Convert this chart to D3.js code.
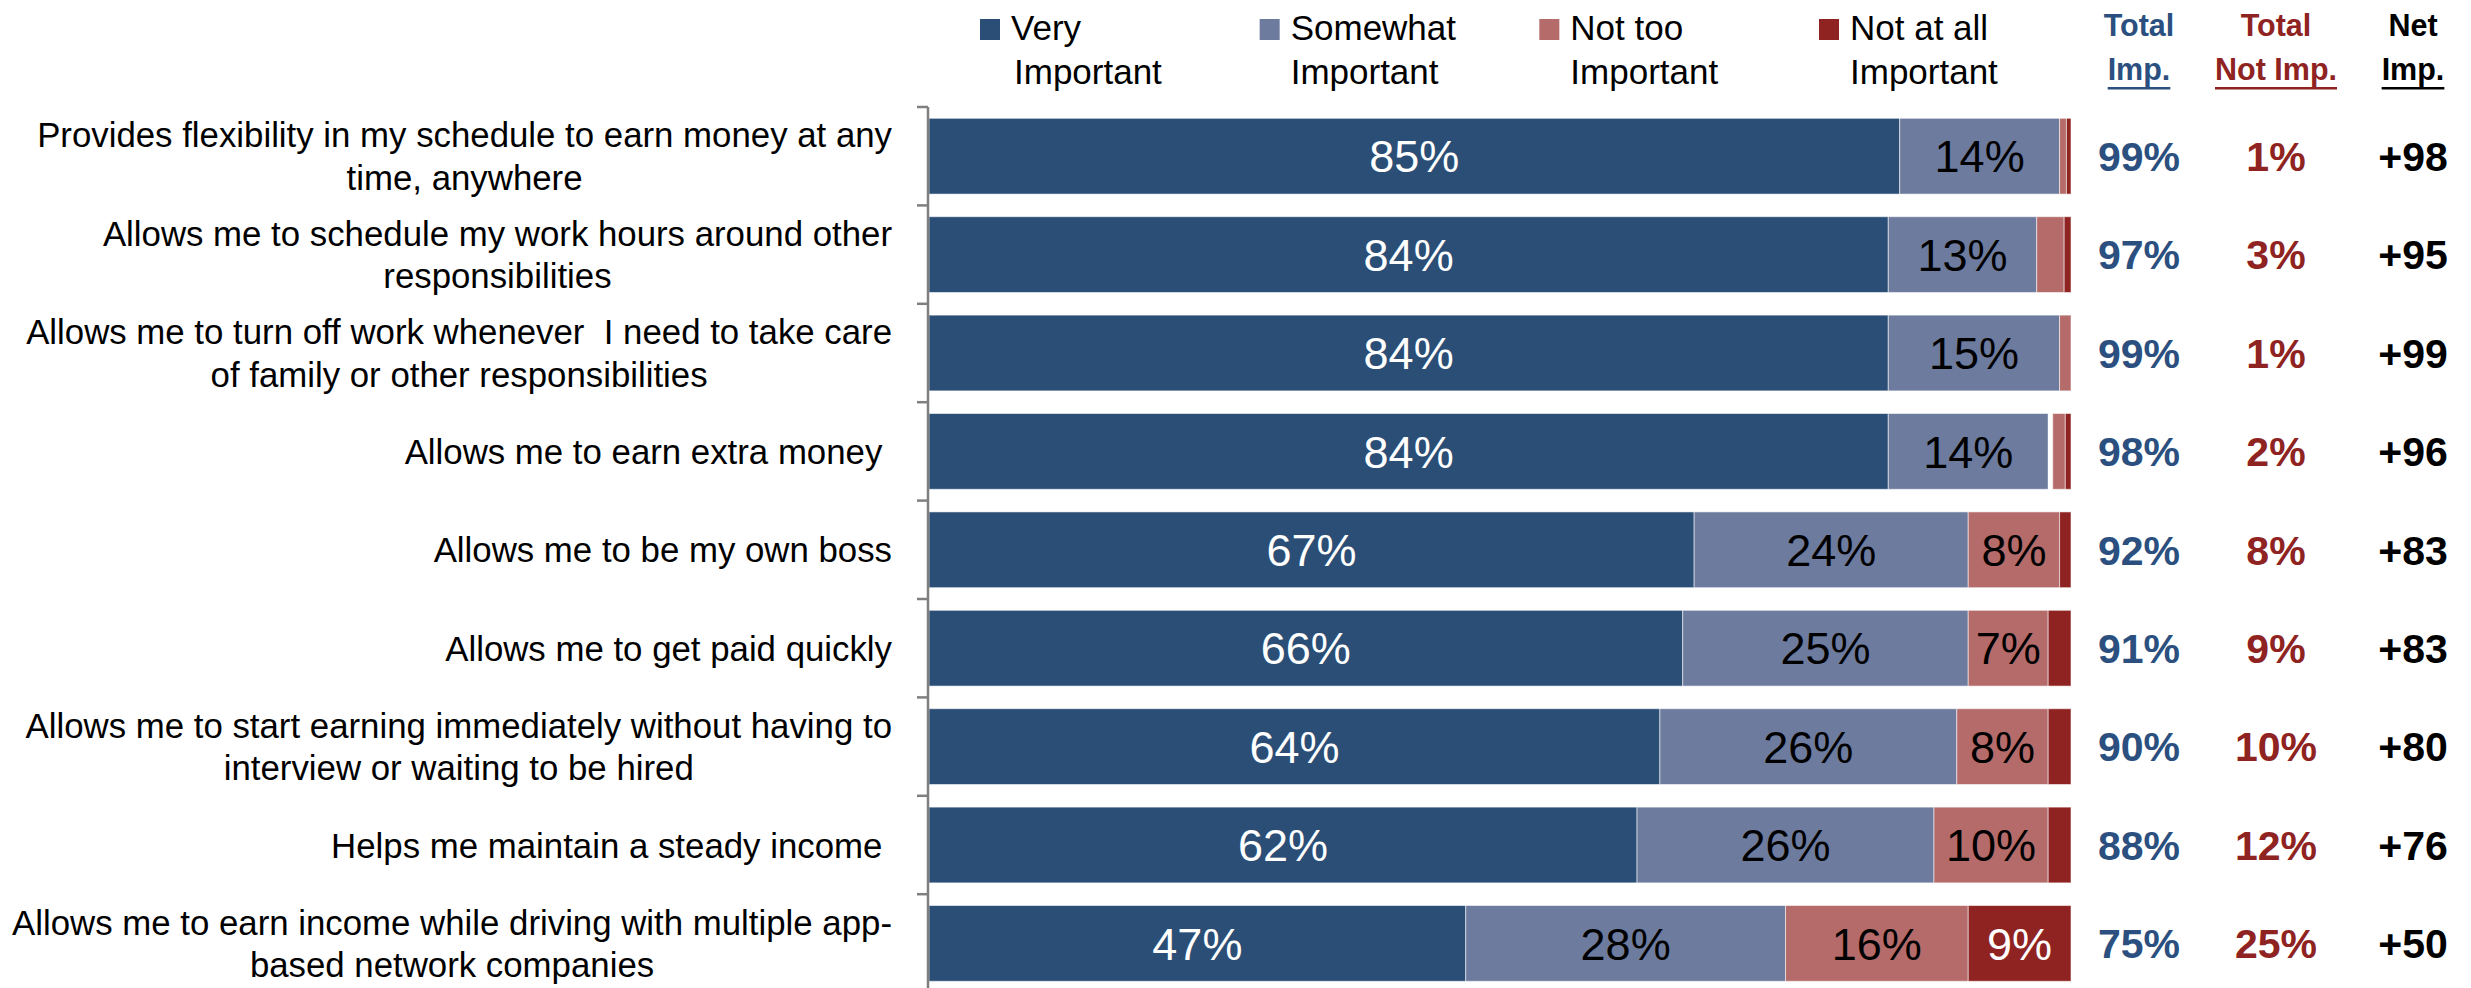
<!DOCTYPE html>
<html>
<head>
<meta charset="utf-8">
<script src="https://cdn.jsdelivr.net/npm/d3@7"></script>
<style>
  body { margin: 0; background: #fff; }
  svg { display: block; }
  text { font-family: "Liberation Sans", Arial, sans-serif; white-space: pre; }
</style>
</head>
<body>
<svg id="chart" width="2471" height="988"></svg>
<script>
// Survey items (line breaks as shown on the axis)
const categories = [
  "Provides flexibility in my schedule to earn money at any\ntime, anywhere",
  "Allows me to schedule my work hours around other\nresponsibilities",
  "Allows me to turn off work whenever  I need to take care\nof family or other responsibilities",
  "Allows me to earn extra money ",
  "Allows me to be my own boss",
  "Allows me to get paid quickly",
  "Allows me to start earning immediately without having to\ninterview or waiting to be hired",
  "Helps me maintain a steady income ",
  "Allows me to earn income while driving with multiple app-\nbased network companies"
];

// Response shares (%)
const veryImportant     = [85, 84, 84, 84, 67, 66, 64, 62, 47];
const somewhatImportant = [14, 13, 15, 14, 24, 25, 26, 26, 28];
const noAnswer          = [0, 0, 0, 0.4, 0, 0, 0, 0, 0];
const notTooImportant   = [0.6, 2.4, 1, 1.1, 8, 7, 8, 10, 16];
const notAtAllImportant = [0.4, 0.6, 0, 0.5, 1, 2, 2, 2, 9];

// Summary columns
const totalImp    = [99, 97, 99, 98, 92, 91, 90, 88, 75];
const totalNotImp = [1, 3, 1, 2, 8, 9, 10, 12, 25];
const netImp      = [98, 95, 99, 96, 83, 83, 80, 76, 50];

// Legend and header text
const seriesKeys   = ["very", "somewhat", "noAnswer", "notToo", "notAtAll"];
const legendKeys   = ["very", "somewhat", "notToo", "notAtAll"];
const legendLabels = ["Very\nImportant", "Somewhat\nImportant", "Not too\nImportant", "Not at all\nImportant"];
const headerLabels = ["Total\nImp.", "Total\nNot Imp.", "Net\nImp."];

const colors = {
  very: "#2b4e76",
  somewhat: "#6c7b9e",
  noAnswer: "#ffffff",
  notToo: "#b46b69",
  notAtAll: "#8f2322"
};
const labelColors = { very: "#ffffff", somewhat: "#000000", notToo: "#000000", notAtAll: "#ffffff" };
const headerColors = ["#2b5080", "#8f2322", "#000000"];

const rows = categories.map((c, i) => ({
  cat: c,
  very: veryImportant[i],
  somewhat: somewhatImportant[i],
  noAnswer: noAnswer[i],
  notToo: notTooImportant[i],
  notAtAll: notAtAllImportant[i]
}));

const svg = d3.select("#chart");

const step = 98.4;
const y = d3.scaleBand()
  .domain(categories)
  .range([107, 107 + step * categories.length])
  .paddingInner(0.23)
  .paddingOuter(0.115);

const x = d3.scaleLinear().domain([0, 100]).range([929, 2071]);

// Stacked segments
const stacked = d3.stack().keys(seriesKeys)(rows);

const layers = svg.append("g").selectAll("g")
  .data(stacked)
  .join("g")
  .attr("fill", d => colors[d.key]);

layers.selectAll("rect")
  .data(d => d.map(s => ({ key: d.key, s })))
  .join("rect")
  .attr("x", d => x(d.s[0]))
  .attr("y", d => y(d.s.data.cat))
  .attr("width", d => Math.max(0, x(d.s[1]) - x(d.s[0])))
  .attr("height", y.bandwidth())
  .attr("stroke", d => d.key === "noAnswer" ? "none" : "rgba(255,255,255,0.55)")
  .attr("stroke-width", 1);

// Segment value labels
const labelLayers = stacked.filter(l => l.key !== "noAnswer");
svg.append("g").selectAll("g")
  .data(labelLayers)
  .join("g")
  .selectAll("text")
  .data(d => d.map(s => ({ key: d.key, s, v: s[1] - s[0] })).filter(d => d.v >= 5))
  .join("text")
  .attr("x", d => x((d.s[0] + d.s[1]) / 2))
  .attr("y", d => y(d.s.data.cat) + y.bandwidth() / 2)
  .attr("dy", "0.36em")
  .attr("text-anchor", "middle")
  .attr("font-size", 45)
  .attr("fill", d => labelColors[d.key])
  .text(d => Math.round(d.v) + "%");

// Category axis line and ticks
const axisX = 928;
const axisG = svg.append("g").attr("stroke", "#7f7f7f").attr("stroke-width", 2.5);
axisG.append("line")
  .attr("x1", axisX).attr("x2", axisX)
  .attr("y1", y.range()[0]).attr("y2", y.range()[1]);
axisG.selectAll("line.tick")
  .data(d3.range(categories.length + 1))
  .join("line")
  .attr("class", "tick")
  .attr("x1", axisX - 11).attr("x2", axisX)
  .attr("y1", i => y.range()[0] + i * y.step())
  .attr("y2", i => y.range()[0] + i * y.step());

// Category labels: lines centred within a right-aligned block
const labelRight = 892;
const lineGap = 42.5;
categories.forEach(cat => {
  const lines = cat.split("\n");
  const cy = y(cat) + y.bandwidth() / 2;
  const t = svg.append("text")
    .attr("font-size", 34.8)
    .attr("fill", "#000")
    .attr("text-anchor", "middle");
  const spans = lines.map((ln, j) => t.append("tspan")
    .attr("y", cy + (j - (lines.length - 1) / 2) * lineGap)
    .attr("dy", "0.36em")
    .text(ln));
  const maxW = d3.max(spans, s => s.node().getComputedTextLength());
  spans.forEach(s => s.attr("x", labelRight - maxW / 2));
});

// Summary columns
const colX = d3.scalePoint().domain([0, 1, 2]).range([2139, 2413]);
const summaries = [
  totalImp.map(v => v + "%"),
  totalNotImp.map(v => v + "%"),
  netImp.map(v => "+" + v)
];
summaries.forEach((vals, c) => {
  svg.append("g").selectAll("text")
    .data(vals)
    .join("text")
    .attr("x", colX(c))
    .attr("y", (d, i) => y(categories[i]) + y.bandwidth() / 2)
    .attr("dy", "0.36em")
    .attr("text-anchor", "middle")
    .attr("font-size", 41)
    .attr("font-weight", "bold")
    .attr("fill", headerColors[c])
    .text(d => d);
});

// Column headers with underlined second line
headerLabels.forEach((h, c) => {
  const [l1, l2] = h.split("\n");
  const g = svg.append("g").attr("fill", headerColors[c]);
  g.append("text")
    .attr("x", colX(c)).attr("y", 36)
    .attr("text-anchor", "middle")
    .attr("font-size", 30.5).attr("font-weight", "bold")
    .text(l1);
  const t2 = g.append("text")
    .attr("x", colX(c)).attr("y", 80)
    .attr("text-anchor", "middle")
    .attr("font-size", 30.5).attr("font-weight", "bold")
    .text(l2);
  const w = t2.node().getComputedTextLength();
  g.append("rect")
    .attr("x", colX(c) - w / 2).attr("y", 87)
    .attr("width", w).attr("height", 2.5);
});

// Legend
const legX = d3.scalePoint().domain(legendKeys).range([980, 1819]);
legendKeys.forEach((k, i) => {
  const g = svg.append("g").attr("transform", `translate(${legX(k)},0)`);
  g.append("rect")
    .attr("x", 0).attr("y", 19)
    .attr("width", 20).attr("height", 21)
    .attr("fill", colors[k]);
  const [l1, l2] = legendLabels[i].split("\n");
  g.append("text").attr("x", 31).attr("y", 40)
    .attr("font-size", 35).attr("fill", "#000").text(l1);
  g.append("text").attr("x", i === 0 ? 34 : 31).attr("y", 84)
    .attr("font-size", 35).attr("fill", "#000").text(l2);
});
</script>
</body>
</html>
